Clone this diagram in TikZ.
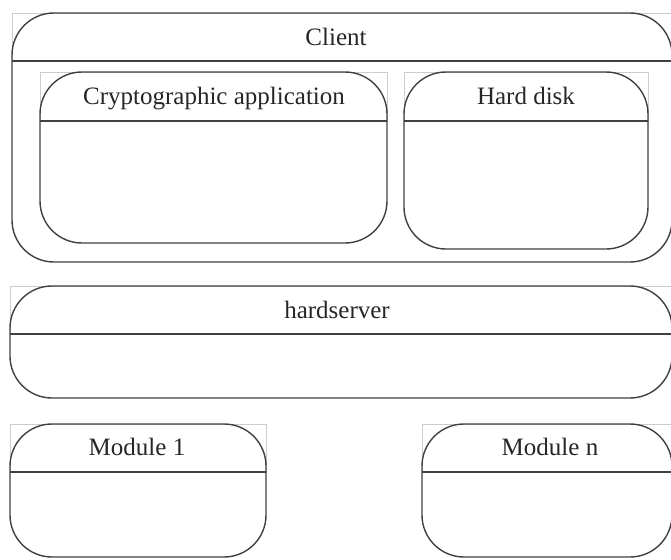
\documentclass[tikz,border=0pt]{standalone}
\usepackage{fontspec}
\setmainfont{Liberation Serif}
\begin{document}
\begin{tikzpicture}[x=1pt,y=-1pt,
  hdr/.style={draw=black!20,line width=0.8pt},
  shell/.style={draw=black!75,line width=1.4pt,rounded corners=42pt},
  sep/.style={draw=black!75,line width=1.4pt},
  lbl/.style={anchor=base,inner sep=0pt,font=\fontsize{25}{29}\selectfont,text=black!85}]
\useasboundingbox (0,0) rectangle (671,559);
\clip (0,0) rectangle (671,559);
% Client
\draw[hdr] (12,13) rectangle (672,61);
\draw[shell] (12,13) rectangle (672,262);
\draw[sep] (12,61) -- (672,61);
\node[lbl] (client) at (336,45.5) {Client};
% Cryptographic application
\draw[hdr] (40,72) rectangle (387,121);
\draw[shell] (40,72) rectangle (387,243);
\draw[sep] (40,121) -- (387,121);
\node[lbl] (crypto) at (214,105) {Cryptographic application};
% Hard disk
\draw[hdr] (404,72) rectangle (648,121);
\draw[shell] (404,72) rectangle (648,249);
\draw[sep] (404,121) -- (648,121);
\node[lbl] (disk) at (526,105) {Hard disk};
% hardserver
\draw[hdr] (10,286) rectangle (672,334);
\draw[shell] (10,286) rectangle (672,398);
\draw[sep] (10,334) -- (672,334);
\node[lbl] (hs) at (337,318.5) {hardserver};
% Module 1
\draw[hdr] (10,424) rectangle (266,472);
\draw[shell] (10,424) rectangle (266,557);
\draw[sep] (10,472) -- (266,472);
\node[lbl] (m1) at (137,455.5) {Module 1};
% Module n
\draw[hdr] (422,424) rectangle (672,472);
\draw[shell] (422,424) rectangle (672,557);
\draw[sep] (422,472) -- (672,472);
\node[lbl] (mn) at (550,455.5) {Module n};
\end{tikzpicture}
\end{document}
